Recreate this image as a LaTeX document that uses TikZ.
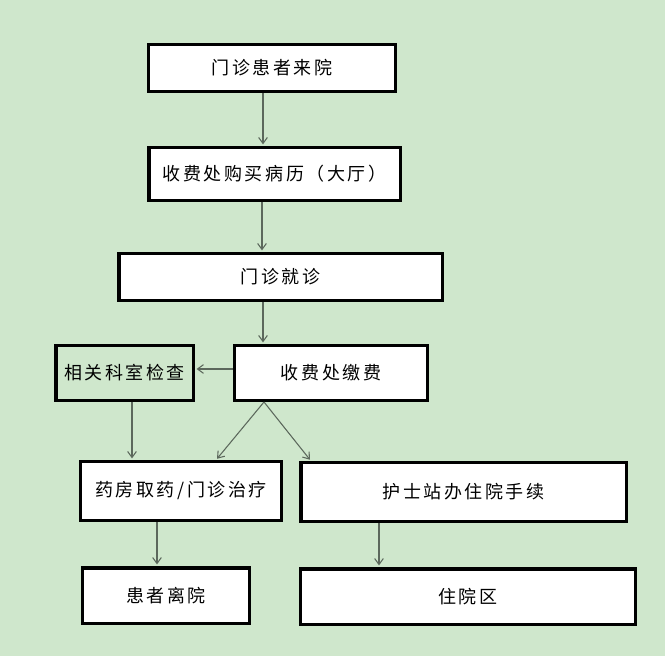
\documentclass[tikz,border=0pt]{standalone}
\usepackage{fontspec}
\usepackage{xcolor}
\usepackage{tikz}
\usetikzlibrary{arrows.meta}
\newfontfamily\cjk[LetterSpace=14]{Noto Sans CJK SC}
\definecolor{bgGreen}{RGB}{207,231,204}
\definecolor{lineGray}{RGB}{92,104,92}

\begin{document}
\begin{tikzpicture}[x=0.75pt,y=0.75pt,yscale=-1,xscale=1,
  box/.style={draw=black,line width=2.6pt,fill=white,rectangle,inner sep=0pt,font=\cjk\fontsize{13.5pt}{16pt}\selectfont},
  flow/.style={draw=lineGray,line width=0.8pt,-{Straight Barb[length=4.5pt,width=6.5pt]},shorten >=1.2pt}]

%Background
\fill [bgGreen] (0,0) rectangle (665,656);
\useasboundingbox (0,0) rectangle (665,656);

%Shape: Rectangle
\node [box,minimum width=184.9pt,minimum height=34.9pt] (arrive) at (272,68) {门诊患者来院};
%Shape: Rectangle
\node [box,minimum width=188.6pt,minimum height=39.4pt] (record) at (274.5,174) {收费处购买病历（大厅）};
%Shape: Rectangle
\node [box,minimum width=242.6pt,minimum height=34.9pt] (visit) at (280.5,277) {门诊就诊};
%Shape: Rectangle
\node [box,fill=bgGreen,minimum width=103.1pt,minimum height=40.9pt] (exam) at (124.5,373) {相关科室检查};
%Shape: Rectangle
\node [box,minimum width=144.4pt,minimum height=40.9pt] (pay) at (331,373) {收费处缴费};
%Shape: Rectangle
\node [box,minimum width=150.4pt,minimum height=43.9pt] (drug) at (181,491) {药房取药/门诊治疗};
%Shape: Rectangle
\node [box,minimum width=244.1pt,minimum height=43.9pt] (admit) at (463.5,492) {护士站办住院手续};
%Shape: Rectangle
\node [box,minimum width=124.9pt,minimum height=41.6pt] (leave) at (166,595.5) {患者离院};
%Shape: Rectangle
\node [box,minimum width=250.9pt,minimum height=41.6pt] (ward) at (468,596.5) {住院区};

%Connector positions
\coordinate (xa) at (263,0);
\coordinate (xb) at (262,0);
\coordinate (xc) at (264,0);
\coordinate (xd) at (132,0);
\coordinate (xe) at (216,0);
\coordinate (xf) at (311,0);
\coordinate (xg) at (157,0);
\coordinate (xh) at (379,0);
\coordinate (yh) at (0,369);

%Straight Lines
\draw [flow] (arrive.south -| xa) -- (record.north -| xa);
\draw [flow] (record.south -| xb) -- (visit.north -| xb);
\draw [flow] (visit.south -| xa) -- (pay.north -| xa);
\draw [flow] (pay.west |- yh) -- (exam.east |- yh);
\draw [flow] (exam.south -| xd) -- (drug.north -| xd);
\draw [flow] (pay.south -| xc) -- (drug.north -| xe);
\draw [flow] (pay.south -| xc) -- (admit.north -| xf);
\draw [flow] (drug.south -| xg) -- (leave.north -| xg);
\draw [flow] (admit.south -| xh) -- (ward.north -| xh);

\end{tikzpicture}
\end{document}
